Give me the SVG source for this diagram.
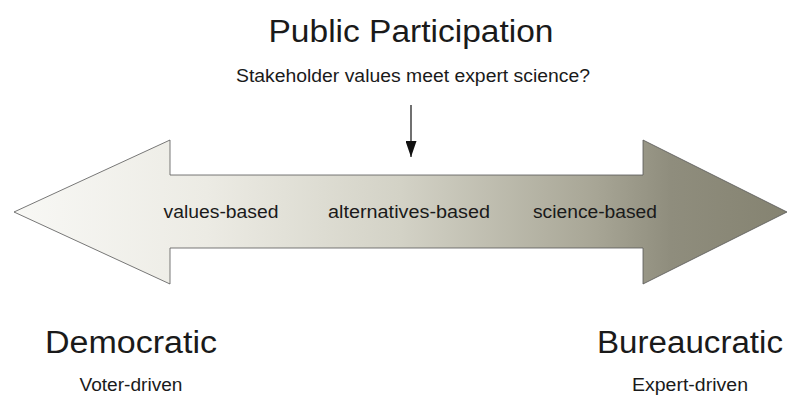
<svg xmlns="http://www.w3.org/2000/svg" width="787" height="396" viewBox="0 0 787 396">
<defs>
<linearGradient id="g" x1="14" y1="0" x2="787" y2="0" gradientUnits="userSpaceOnUse">
<stop offset="0" stop-color="#f8f8f5"/>
<stop offset="0.25" stop-color="#ecebe4"/>
<stop offset="0.5" stop-color="#d3d2c6"/>
<stop offset="0.75" stop-color="#a8a696"/>
<stop offset="0.85" stop-color="#8f8d7d"/>
<stop offset="1" stop-color="#858371"/>
</linearGradient>
<marker id="ah" markerWidth="16" markerHeight="11" refX="16" refY="5.5" orient="auto" markerUnits="userSpaceOnUse" viewBox="0 0 16 11">
<path d="M0,0 L16,5.5 L0,11 Z" fill="#111"/>
</marker>
<style>
text{font-family:"Liberation Sans",Arial,sans-serif;fill:#1a1a1a}
.big{font-size:31px}
.mid{font-size:17.5px}
</style>
</defs>
<g id="double-arrow">
<path d="M14,212 L170,140 L170,175 L643,175 L643,140 L787,212 L643,284 L643,248 L170,248 L170,284 Z" fill="url(#g)" stroke="#555" stroke-width="0.8"/>
</g>
<g id="title">
<text class="big" x="411" y="42" text-anchor="middle" textLength="285" lengthAdjust="spacingAndGlyphs">Public Participation</text>
<text class="mid" x="413" y="82" text-anchor="middle" textLength="354" lengthAdjust="spacingAndGlyphs">Stakeholder values meet expert science?</text>
</g>
<g id="labels">
<text class="mid" x="221" y="218" text-anchor="middle" textLength="115" lengthAdjust="spacingAndGlyphs">values-based</text>
<text class="mid" x="409" y="218" text-anchor="middle" textLength="162" lengthAdjust="spacingAndGlyphs">alternatives-based</text>
<text class="mid" x="595" y="218" text-anchor="middle" textLength="124" lengthAdjust="spacingAndGlyphs">science-based</text>
</g>
<g id="democratic">
<text class="big" x="131" y="353" text-anchor="middle" textLength="172" lengthAdjust="spacingAndGlyphs">Democratic</text>
<text class="mid" x="131" y="391" text-anchor="middle" textLength="103" lengthAdjust="spacingAndGlyphs">Voter-driven</text>
</g>
<g id="bureaucratic">
<text class="big" x="690" y="353" text-anchor="middle" textLength="186" lengthAdjust="spacingAndGlyphs">Bureaucratic</text>
<text class="mid" x="690" y="391" text-anchor="middle" textLength="116" lengthAdjust="spacingAndGlyphs">Expert-driven</text>
</g>
<g id="connectors">
<line x1="411" y1="105" x2="411" y2="157" stroke="#111" stroke-width="1.2" marker-end="url(#ah)"/>
</g>
</svg>
